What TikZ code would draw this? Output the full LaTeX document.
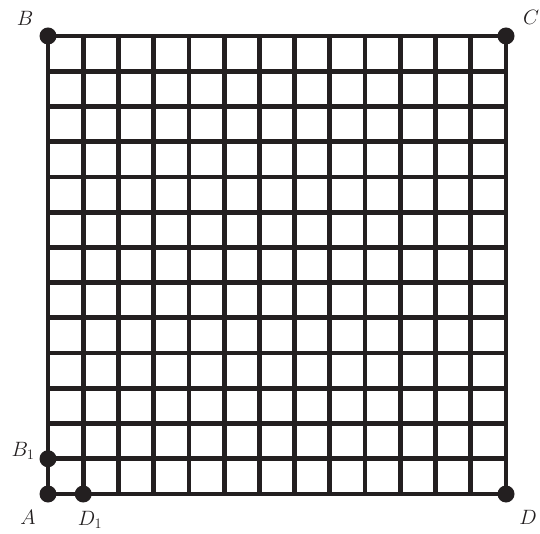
\documentclass[tikz,border=0pt]{standalone}
\definecolor{ink}{HTML}{231F20}
\begin{document}
\begin{tikzpicture}[x=1pt,y=1pt,
  gridline/.style={line width=4.8pt, draw=ink},
  pt/.style={circle, fill=ink, inner sep=0pt, minimum size=17pt},
  lbl/.style={font=\fontsize{22}{26}\selectfont, text=ink, inner sep=0pt}]
\useasboundingbox (0,0) rectangle (540,533);
\foreach \i in {0,...,13} {
  \draw[gridline] ({48+\i*458/13},39) -- ({48+\i*458/13},497);
  \draw[gridline] (48,{39+\i*458/13}) -- (506,{39+\i*458/13});
}
\draw[gridline, line cap=rect] (48,39) rectangle (506,497);
\node[pt] (A) at (48,39) {};
\node[pt] (B) at (48,497) {};
\node[pt] (C) at (506,497) {};
\node[pt] (D) at (506,39) {};
\node[pt] (B1) at (48,{39+458/13}) {};
\node[pt] (D1) at ({48+458/13},39) {};
\node[lbl] at (25,515) {$B$};
\node[lbl] at (531,516) {$C$};
\node[lbl] at (28,16) {$A$};
\node[lbl] at (528,16) {$D$};
\node[lbl] at (23,82) {$B_1$};
\node[lbl] at (90,13) {$D_1$};
\end{tikzpicture}
\end{document}
